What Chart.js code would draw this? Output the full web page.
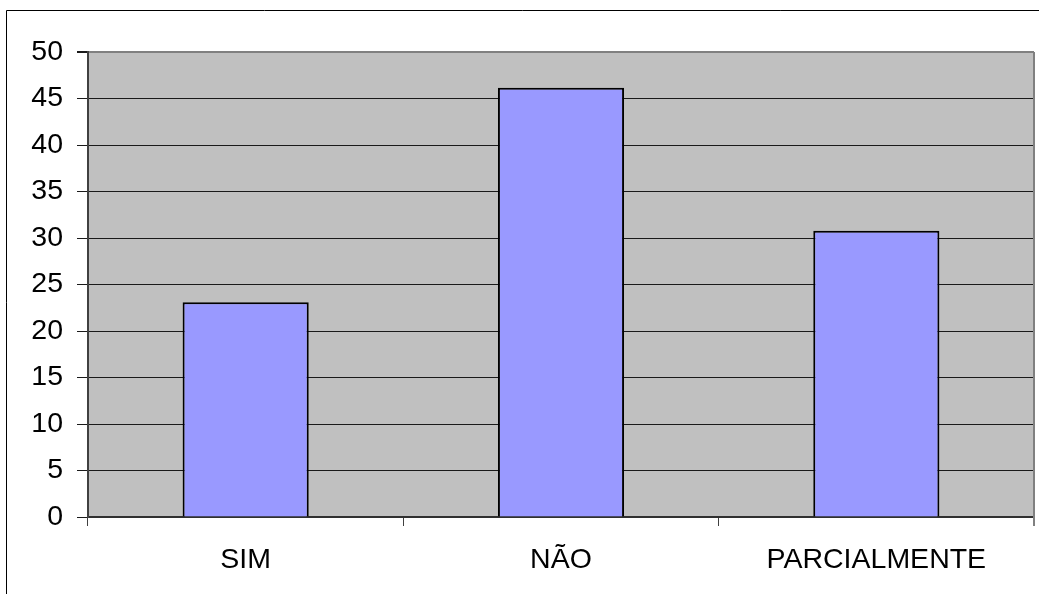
<!DOCTYPE html>
<html>
<head>
<meta charset="utf-8">
<script src="https://cdn.jsdelivr.net/npm/chart.js@4/dist/chart.umd.min.js"></script>
<style>
  html, body { margin: 0; padding: 0; background: #fff; }
  #wrap { width: 1039px; height: 594px; position: relative; }
</style>
</head>
<body>
<div id="wrap"><canvas id="c" width="1039" height="594"></canvas></div>
<script>
// Answer categories and their percentages
const categories = ['SIM', 'NÃO', 'PARCIALMENTE'];
const percentages = [23.08, 46.15, 30.77];
// Value axis range
const yMin = 0;
const yMax = 50;
const yStep = 5;

// Gray plot background plus the frame lines around the chart
const framePlugin = {
  id: 'frame',
  beforeDraw(chart) {
    const { ctx, chartArea: a } = chart;
    ctx.save();
    ctx.fillStyle = '#ffffff';
    ctx.fillRect(0, 0, chart.width, chart.height);
    ctx.fillStyle = '#C0C0C0';
    ctx.fillRect(a.left, a.top, a.right - a.left, a.bottom - a.top);
    // outer chart frame (left and top edges)
    ctx.strokeStyle = '#000';
    ctx.lineWidth = 1;
    ctx.beginPath();
    ctx.moveTo(6.5, chart.height);
    ctx.lineTo(6.5, 10.5);
    ctx.lineTo(chart.width, 10.5);
    ctx.stroke();
    ctx.restore();
  },
  afterDraw(chart) {
    const { ctx, chartArea: a } = chart;
    ctx.save();
    ctx.strokeStyle = '#808080';
    ctx.lineWidth = 2;
    ctx.beginPath();
    ctx.moveTo(a.right, a.top);
    ctx.lineTo(a.right, a.bottom);
    ctx.stroke();
    // short stub below the right end of the category axis
    ctx.beginPath();
    ctx.moveTo(a.right, a.bottom);
    ctx.lineTo(a.right, a.bottom + 9);
    ctx.stroke();
    ctx.restore();
  }
};

const font = { family: '"Liberation Sans", Arial, sans-serif', size: 28.5 };

new Chart(document.getElementById('c'), {
  type: 'bar',
  data: {
    labels: categories,
    datasets: [{
      data: percentages,
      backgroundColor: '#9999FF',
      borderColor: '#000000',
      borderWidth: 2,
      categoryPercentage: 1.0,
      barPercentage: 0.4
    }]
  },
  options: {
    responsive: false,
    animation: false,
    devicePixelRatio: 1,
    layout: { padding: { left: 0, top: 52, right: 5, bottom: 0 } },
    plugins: {
      legend: { display: false },
      tooltip: { enabled: false }
    },
    scales: {
      x: {
        afterFit(scale) { scale.height = 77; },
        grid: {
          display: true,
          drawOnChartArea: false,
          drawTicks: true,
          tickLength: 9,
          color: '#404040',
          lineWidth: 1
        },
        border: { display: true, color: '#303030', width: 2 },
        ticks: { color: '#000', font: font, padding: 17, maxRotation: 0 }
      },
      y: {
        min: yMin,
        max: yMax,
        afterFit(scale) { scale.width = 88; },
        grid: {
          color: (c) => (c.tick && c.tick.value === yMax ? '#808080' : '#1a1a1a'),
          lineWidth: (c) => (c.tick && c.tick.value === yMax ? 2 : 1),
          tickLength: 11,
          tickColor: '#1a1a1a',
          drawTicks: true
        },
        border: { display: true, color: '#404040', width: 2 },
        ticks: { stepSize: yStep, color: '#000', font: font, padding: 14 }
      }
    }
  },
  plugins: [framePlugin]
});
</script>
</body>
</html>
